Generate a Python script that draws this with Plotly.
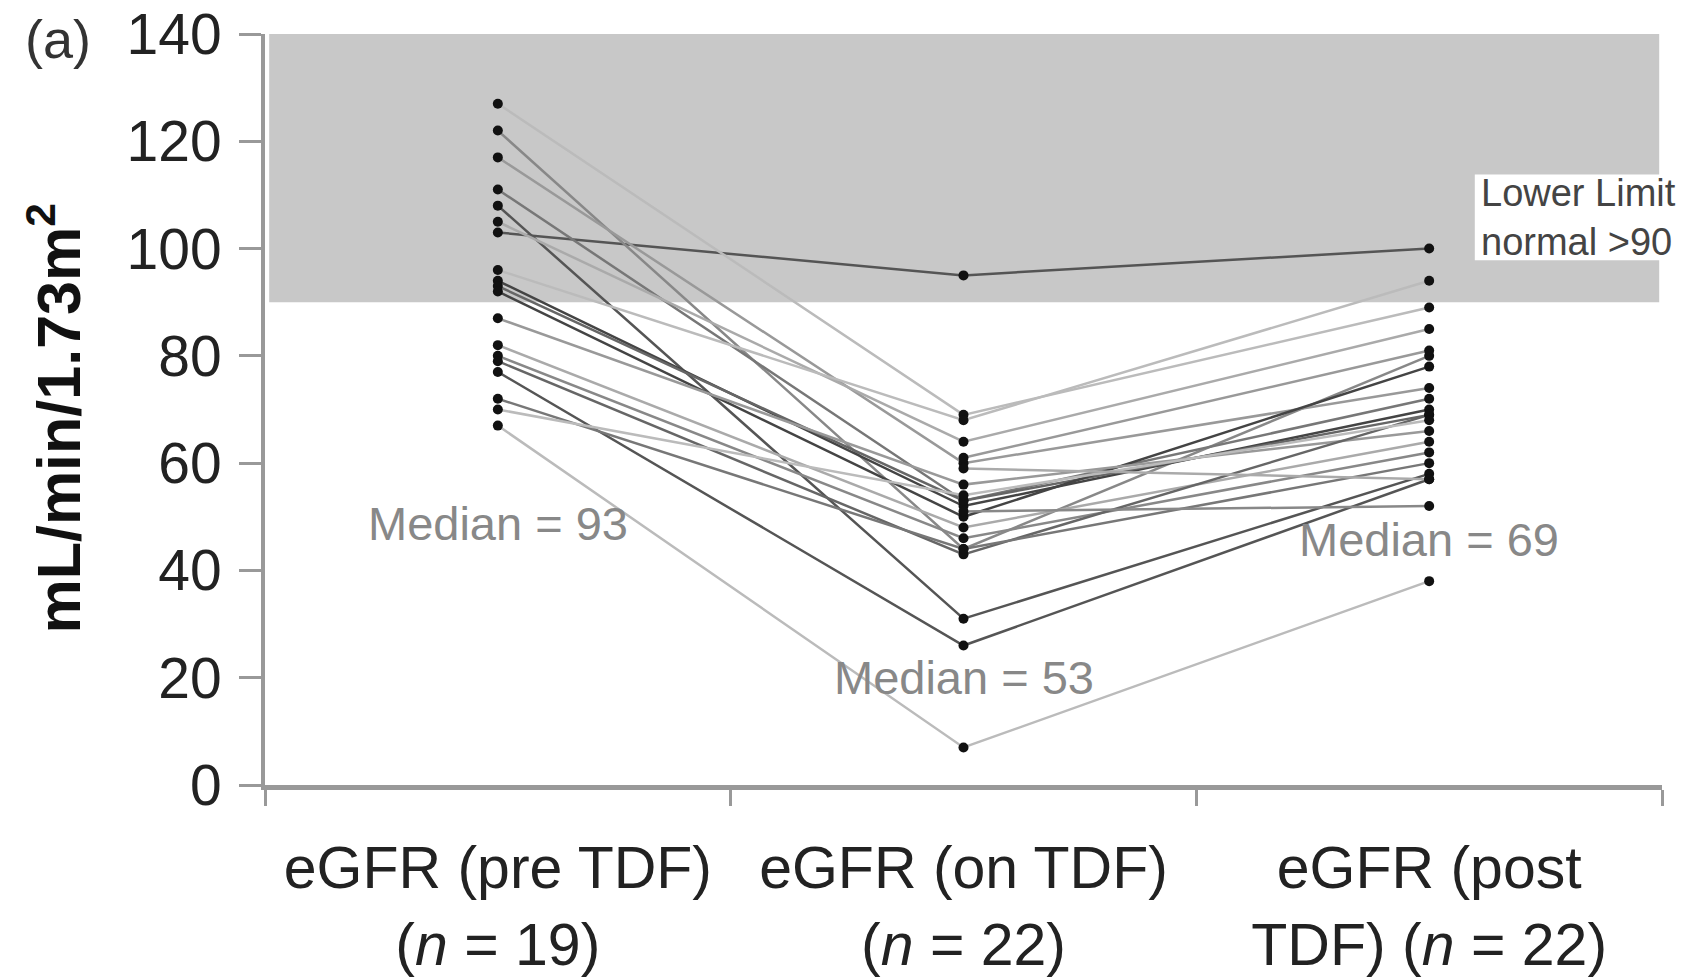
import plotly.graph_objects as go

# ---- data ----
categories = ["eGFR (pre TDF)<br>(<i>n</i> = 19)",
              "eGFR (on TDF)<br>(<i>n</i> = 22)",
              "eGFR (post<br>TDF) (<i>n</i> = 22)"]
pre_tdf  = [103, 127, 122, 117, 111, 108, 105, 96, 94, 93, 92, 87, 82, 80, 79, 77, 72, 70, 67, None, None, None]
on_tdf   = [95, 69, 44, 60, 53, 31, 64, 68, 52, 53, 50, 56, 48, 46, 43, 26, 44, 54, 7, 61, 59, 51]
post_tdf = [100, 89, 80, 74, 72, 58, 85, 94, 70, 69, 78, 66, 64, 62, 69, 57, 60, 68, 38, 81, 57, 52]
medians = [93, 53, 69]
median_label_y = [48.8, 20, 45.8]
normal_range = [90, 140]
y_ticks = [0, 20, 40, 60, 80, 100, 120, 140]

# ---- styles ----
line_colors = ["#555555", "#bbbbbb", "#888888", "#999999", "#777777", "#555555",
               "#aaaaaa", "#bbbbbb", "#444444", "#666666", "#444444", "#999999",
               "#aaaaaa", "#888888", "#666666", "#555555", "#777777", "#bbbbbb",
               "#bbbbbb", "#999999", "#aaaaaa", "#888888"]
FONT = "Liberation Sans, Arial, sans-serif"
xpos = [0.5, 1.5, 2.5]

fig = go.Figure()

# normal range band
fig.add_shape(type="rect", xref="paper", yref="y", x0=0.003, x1=0.998,
              y0=normal_range[0], y1=normal_range[1],
              fillcolor="#c8c8c8", line=dict(width=0), layer="below")

# patient lines
for i in range(len(on_tdf)):
    fig.add_trace(go.Scatter(
        x=xpos, y=[pre_tdf[i], on_tdf[i], post_tdf[i]],
        mode="lines", line=dict(color=line_colors[i], width=2.5),
        connectgaps=False, showlegend=False, hoverinfo="skip"))

# markers on top
for k, col in enumerate([pre_tdf, on_tdf, post_tdf]):
    vals = [v for v in col if v is not None]
    fig.add_trace(go.Scatter(
        x=[xpos[k]] * len(vals), y=vals, mode="markers",
        marker=dict(color="#111111", size=10), showlegend=False))

# median labels
for k in range(3):
    fig.add_annotation(x=xpos[k], y=median_label_y[k], xref="x", yref="y",
                       text=f"Median = {medians[k]}", showarrow=False,
                       font=dict(family=FONT, size=47, color="#888888"))

# lower limit box
fig.add_shape(type="rect", xref="paper", yref="y", x0=0.866, x1=1.05,
              y0=97.8, y1=113.8, fillcolor="white", line=dict(width=0))
fig.add_annotation(x=0.869, y=105.8, xref="paper", yref="y", xanchor="left",
                   yanchor="middle", align="left", showarrow=False,
                   text="Lower Limit<br>normal >90",
                   font=dict(family=FONT, size=38, color="#444444"))

# panel label
fig.add_annotation(x=-0.148, y=0.993, xref="paper", yref="paper",
                   xanchor="center", yanchor="middle", showarrow=False,
                   text="(a)", font=dict(family=FONT, size=54, color="#333333"))

# y title
fig.add_annotation(x=-0.151, y=0.488, xref="paper", yref="paper",
                   xanchor="center", yanchor="middle",
                   textangle=-90, showarrow=False,
                   text="<b>mL/min/1.73m<sup>2</sup></b>",
                   font=dict(family=FONT, size=61, color="#111111"))

fig.update_layout(
    width=1690, height=977,
    margin=dict(l=265, r=28, t=34, b=192, autoexpand=False),
    plot_bgcolor="white", paper_bgcolor="white",
    font=dict(family=FONT, color="#222222"),
    xaxis=dict(range=[0, 3], tickvals=xpos, ticktext=categories,
               ticks="", showgrid=False, zeroline=False, automargin=False,
               showline=True, linecolor="#999999", linewidth=5,
               tickfont=dict(family=FONT, size=59, color="#222222"),
               ticklabelstandoff=27,
               minor=dict(tickvals=[0, 1, 2, 3], ticks="outside",
                          ticklen=16, tickwidth=3, tickcolor="#999999",
                          showgrid=False)),
    yaxis=dict(range=[0, 140], tickvals=y_ticks, ticks="outside",
               ticklen=22, tickwidth=3, tickcolor="#999999",
               showgrid=False, zeroline=False, automargin=False,
               showline=True, linecolor="#999999", linewidth=4,
               ticklabelstandoff=6,
               tickfont=dict(family=FONT, size=57, color="#222222")),
)

fig.write_html("out.html", config={"displayModeBar": False},
               post_script="document.body.style.margin='0';document.body.style.padding='0';")
